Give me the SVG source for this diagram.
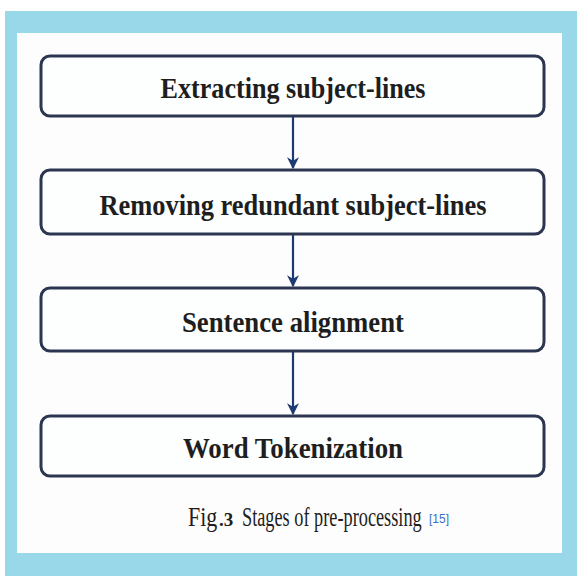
<svg xmlns="http://www.w3.org/2000/svg" width="577" height="576" viewBox="0 0 577 576">
<defs>
<style>
.box{fill:#fdfefe;stroke:#2c3650;stroke-width:3}
.lbl{font-family:"Liberation Serif",serif;font-weight:bold;font-size:30px;fill:#1e1e1e;text-anchor:middle}
.cap{font-family:"Liberation Serif",serif;fill:#1e1e1e}
.conn{stroke:#1d3a72;stroke-width:2.2;fill:none}
</style>
<marker id="ah" viewBox="0 0 10 10" refX="9" refY="5" markerWidth="5.5" markerHeight="5.5" orient="auto" markerUnits="strokeWidth">
<path d="M0,0 L10,5 L0,10 L3,5 Z" fill="#1d3a72"/>
</marker>
</defs>
<rect x="0" y="0" width="577" height="576" fill="#ffffff"/>
<rect x="5" y="11" width="572" height="565" fill="#98d8e8"/>
<rect x="17" y="33" width="545" height="520" fill="#fdfdfd"/>
<g id="connectors">
<line class="conn" x1="293" y1="117" x2="293" y2="168" marker-end="url(#ah)"/>
<line class="conn" x1="293" y1="235" x2="293" y2="286" marker-end="url(#ah)"/>
<line class="conn" x1="293" y1="352" x2="293" y2="414" marker-end="url(#ah)"/>
</g>
<g id="n1">
<rect class="box" x="41" y="56" width="503" height="60" rx="9"/>
<text class="lbl" x="293" y="98" textLength="265" lengthAdjust="spacingAndGlyphs">Extracting subject-lines</text>
</g>
<g id="n2">
<rect class="box" x="41" y="170" width="503" height="64" rx="9"/>
<text class="lbl" x="293" y="215" textLength="387" lengthAdjust="spacingAndGlyphs">Removing redundant subject-lines</text>
</g>
<g id="n3">
<rect class="box" x="41" y="288" width="503" height="63" rx="9"/>
<text class="lbl" x="293" y="332" textLength="222" lengthAdjust="spacingAndGlyphs">Sentence alignment</text>
</g>
<g id="n4">
<rect class="box" x="41" y="416" width="503" height="60" rx="9"/>
<text class="lbl" x="293" y="458" textLength="220" lengthAdjust="spacingAndGlyphs">Word Tokenization</text>
</g>
<g id="caption">
<text class="cap" transform="translate(188,526) scale(1,1.23)" font-size="22">Fig</text>
<text x="219" y="526" font-family="Liberation Serif,serif" font-weight="bold" font-size="19" fill="#1e1e1e">.3</text>
<text class="cap" transform="translate(242,526) scale(1,1.46)" font-size="18.3">Stages of pre-processing</text>
<text x="429" y="523" font-family="Liberation Sans,sans-serif" font-size="12" fill="#3a6fc4">[15]</text>
</g>
</svg>
